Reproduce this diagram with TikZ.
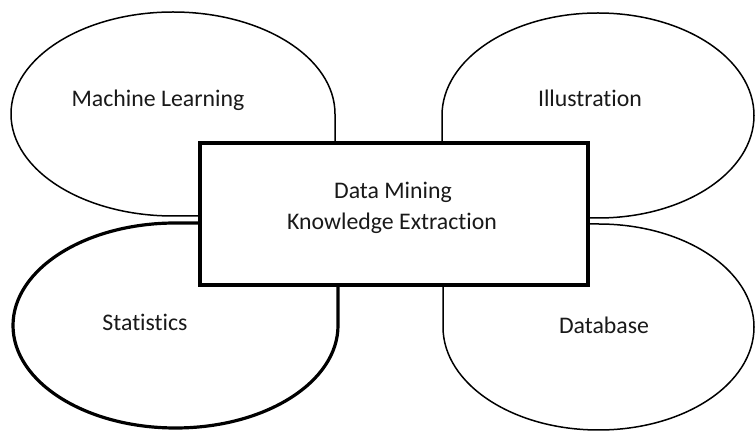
\documentclass[tikz,border=0pt]{standalone}
\usepackage{fontspec}
\setmainfont{Carlito}[RawFeature={-liga}]
\begin{document}
\begin{tikzpicture}[x=1pt,y=1pt,
  blob/.style={draw=black,fill=white,line width=1.5pt,line join=round},
  blobthick/.style={draw=black,fill=white,line width=3.2pt,line join=round},
  lbl/.style={anchor=base,inner sep=0pt,font=\fontsize{23.8}{28}\selectfont,text=black!90},
  centerbox/.style={draw=black,fill=white,line width=4pt,minimum width=388pt,minimum height=142pt,inner sep=0pt}]
\useasboundingbox (0,0) rectangle (755,431);
\fill[white] (0,0) rectangle (755,431);
% top-left: Machine Learning
\path[blob] (335,317) arc[start angle=0,end angle=270,x radius=162,y radius=102] -- (335,215) -- cycle;
% top-right: Illustration
\path[blob] (442,315.5) arc[start angle=180,end angle=-90,x radius=156,y radius=102.5] -- (442,213) -- cycle;
% bottom-left: Statistics
\path[blobthick] (338,105.5) arc[start angle=0,end angle=-270,x radius=162.5,y radius=102.5] -- (338,208) -- cycle;
% bottom-right: Database
\path[blob] (443,104) arc[start angle=180,end angle=450,x radius=155.5,y radius=103] -- (443,207) -- cycle;
% centre box
\node[centerbox] (dm) at (394,217) {};
\node[lbl] (ml) at (158,324) {Machine Learning};
\node[lbl] (il) at (590,324) {Illustration};
\node[lbl] (st) at (145,100.3) {Statistics};
\node[lbl] (db) at (604,97.7) {Database};
\node[lbl] (t1) at (393,232.7) {Data Mining};
\node[lbl] (t2) at (392,201) {Knowledge Extraction};
\end{tikzpicture}
\end{document}
